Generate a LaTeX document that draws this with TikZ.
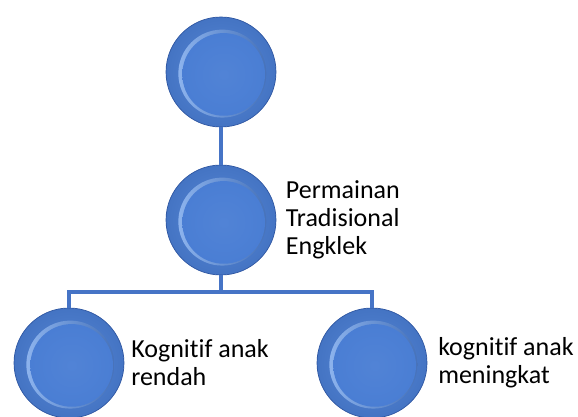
\documentclass[tikz,border=0pt]{standalone}
\usepackage{fontspec}
\setmainfont{Carlito}[Ligatures=NoCommon]
\usetikzlibrary{shapes,positioning}

\definecolor{bulbblue}{RGB}{74,126,212}
\definecolor{bulbdark}{RGB}{44,84,160}
\definecolor{bulblight}{RGB}{150,188,244}
\definecolor{linkblue}{RGB}{70,116,198}

\begin{document}
\begin{tikzpicture}[x=0.75pt,y=-0.75pt]
\useasboundingbox (0,0) rectangle (578,417);

\edef\sizebulb{82.5pt}
\tikzstyle{bulb}=[circle,minimum size=\sizebulb,inner sep=0pt,
  draw=bulbdark,line width=0.5pt,
  inner color=bulbblue!92!white,outer color=bulbblue!92!black,
  path picture={
    \shade[left color=bulblight,right color=bulbblue!85!black]
      ([xshift=1pt,yshift=-1.2pt]path picture bounding box.center) circle (33pt);
    \shade[inner color=bulbblue!96!white,outer color=bulbblue]
      ([xshift=2pt,yshift=-1.8pt]path picture bounding box.center) circle (31pt);
  }]
\tikzstyle{bulbtext}=[align=left,inner sep=0pt,anchor=west,
  font=\fontsize{19.5}{21}\selectfont]
\tikzstyle{link}=[draw=linkblue,line width=2.3pt]

%% Draw the circles
\node [bulb] (root) at (221,72) {};
\node [bulb] (game) at (221,220) {};
\node [bulb] (low) at (69,363) {};
\node [bulb] (high) at (372,363) {};

%% Labels beside the circles
\node [bulbtext,xshift=7pt] at (game.east) (gametext)
      {Permainan\\Tradisional\\Engklek};
\node [bulbtext,xshift=5pt] at (low.east) (lowtext)
      {Kognitif anak\\rendah};
\node [bulbtext,xshift=8pt] at (high.east) (hightext)
      {kognitif anak\\meningkat};

%% Connect them
\coordinate (fork) at (221,292);
\draw[link] (root) -- (game);
\draw[link] (game) -- (fork) -| (low);
\draw[link] (fork) -| (high);

\end{tikzpicture}
\end{document}
